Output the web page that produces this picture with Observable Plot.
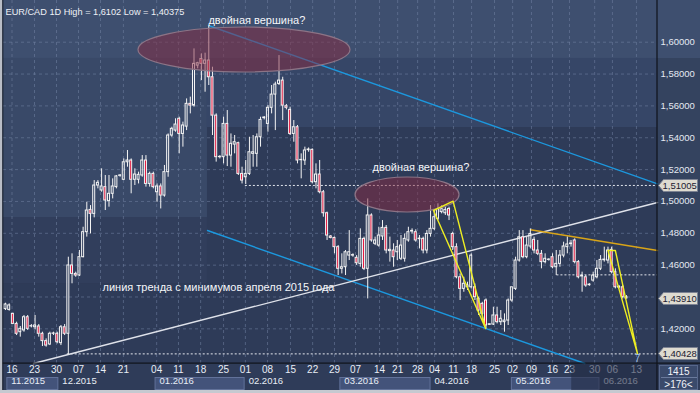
<!DOCTYPE html>
<html>
<head>
<meta charset="utf-8">
<script src="https://cdn.jsdelivr.net/npm/d3@7"></script>
<script src="https://cdn.jsdelivr.net/npm/@observablehq/plot@0.6"></script>
<style>
  html, body { margin: 0; padding: 0; background: #c5c9d0; }
  #chart svg { display: block; }
</style>
</head>
<body>
<div id="chart"></div>
<script>
// ---- daily candles (EUR/CAD) ----
const open = [1.4324,1.4319,1.4294,1.4231,1.4179,1.4190,1.4273,1.4215,1.4210,1.4215,
1.4169,1.4123,1.4102,1.4169,1.4169,1.4110,1.4210,1.4169,1.4598,1.4545,
1.4535,1.4650,1.4807,1.4947,1.4922,1.5100,1.5069,1.5090,1.5002,1.5048,
1.5090,1.5161,1.5136,1.5246,1.5257,1.5136,1.5136,1.5163,1.5257,1.5110,
1.5173,1.5058,1.5094,1.5037,1.5184,1.5414,1.5445,1.5519,1.5424,1.5470,
1.5613,1.5602,1.5853,1.5895,1.5864,1.5885,1.5780,1.5539,1.5278,1.5278,
1.5487,1.5288,1.5357,1.5366,1.5173,1.5152,1.5173,1.5299,1.5299,1.5403,
1.5523,1.5487,1.5588,1.5671,1.5738,1.5759,1.5598,1.5575,1.5424,1.5466,
1.5259,1.5257,1.5322,1.5324,1.5121,1.5169,1.5058,1.4926,1.4780,1.4771,
1.4713,1.4577,1.4587,1.4660,1.4660,1.4646,1.4608,1.4765,1.4577,1.4912,
1.4734,1.4723,1.4780,1.4834,1.4688,1.4692,1.4681,1.4640,1.4640,1.4755,
1.4811,1.4807,1.4763,1.4765,1.4692,1.4796,1.4828,1.4891,1.4933,1.4926,
1.4953,1.4796,1.4713,1.4524,1.4451,1.4461,1.4461,1.4461,1.4388,1.4357,
1.4378,1.4225,1.4227,1.4284,1.4242,1.4242,1.4252,1.4378,1.4451,1.4629,
1.4775,1.4650,1.4717,1.4759,1.4692,1.4671,1.4619,1.4633,1.4650,1.4587,
1.4608,1.4660,1.4713,1.4732,1.4755,1.4619,1.4529,1.4524,1.4474,1.4503,
1.4524,1.4577,1.4631,1.4629,1.4696,1.4556,1.4459,1.4461,1.4399];
const high = [1.4361,1.4357,1.4298,1.4242,1.4215,1.4284,1.4284,1.4227,1.4284,1.4227,
1.4179,1.4137,1.4179,1.4179,1.4179,1.4221,1.4227,1.4650,1.4671,1.4556,
1.4692,1.4838,1.4995,1.4974,1.5131,1.5131,1.5205,1.5163,1.5163,1.5142,
1.5163,1.5169,1.5267,1.5320,1.5267,1.5205,1.5184,1.5288,1.5288,1.5184,
1.5184,1.5110,1.5110,1.5226,1.5424,1.5466,1.5519,1.5529,1.5498,1.5644,
1.5655,1.5958,1.5874,1.5927,1.5931,1.6102,1.5843,1.5550,1.5288,1.5529,
1.5571,1.5424,1.5414,1.5372,1.5215,1.5257,1.5403,1.5414,1.5424,1.5529,
1.5533,1.5602,1.5728,1.5749,1.5916,1.5780,1.5609,1.5592,1.5508,1.5477,
1.5299,1.5341,1.5336,1.5330,1.5236,1.5257,1.5069,1.4933,1.4786,1.4776,
1.4723,1.4671,1.4692,1.4817,1.4671,1.4660,1.4828,1.4776,1.5016,1.4922,
1.4776,1.4838,1.4880,1.4849,1.4776,1.4734,1.4755,1.4786,1.4796,1.4838,
1.4828,1.4822,1.4786,1.4776,1.4817,1.4974,1.4943,1.4985,1.4974,1.4964,
1.4964,1.4807,1.4734,1.4545,1.4524,1.4493,1.4671,1.4482,1.4399,1.4367,
1.4388,1.4231,1.4336,1.4336,1.4315,1.4294,1.4388,1.4461,1.4650,1.4817,
1.4817,1.4776,1.4828,1.4776,1.4755,1.4692,1.4671,1.4640,1.4671,1.4692,
1.4692,1.4744,1.4776,1.4755,1.4765,1.4629,1.4556,1.4535,1.4483,1.4556,
1.4629,1.4660,1.4713,1.4713,1.4713,1.4577,1.4472,1.4472,1.4409];
const low = [1.4315,1.4311,1.4227,1.4158,1.4148,1.4179,1.4190,1.4206,1.4194,1.4148,
1.4089,1.4085,1.4095,1.4158,1.4106,1.4095,1.4158,1.4038,1.4483,1.4524,
1.4529,1.4646,1.4776,1.4796,1.4897,1.5079,1.5058,1.4943,1.4964,1.5016,
1.5079,1.5152,1.5131,1.5215,1.5048,1.5100,1.5110,1.5152,1.5090,1.5090,
1.5079,1.4995,1.4953,1.5027,1.5152,1.5403,1.5435,1.5299,1.5341,1.5445,
1.5550,1.5592,1.5833,1.5759,1.5686,1.5728,1.5414,1.5247,1.5267,1.5236,
1.5219,1.5215,1.5299,1.5163,1.5110,1.5106,1.5163,1.5215,1.5215,1.5341,
1.5512,1.5435,1.5550,1.5445,1.5728,1.5508,1.5575,1.5414,1.5372,1.5236,
1.5142,1.5226,1.5309,1.5110,1.5079,1.5048,1.4901,1.4755,1.4765,1.4671,
1.4535,1.4545,1.4535,1.4629,1.4650,1.4598,1.4587,1.4566,1.4388,1.4744,
1.4723,1.4713,1.4755,1.4671,1.4619,1.4587,1.4629,1.4629,1.4619,1.4744,
1.4796,1.4744,1.4702,1.4671,1.4671,1.4776,1.4817,1.4880,1.4922,1.4912,
1.4880,1.4692,1.4514,1.4378,1.4430,1.4441,1.4451,1.4378,1.4284,1.4252,
1.4200,1.4221,1.4221,1.4231,1.4221,1.4179,1.4221,1.4367,1.4441,1.4619,
1.4640,1.4640,1.4702,1.4671,1.4660,1.4577,1.4608,1.4625,1.4577,1.4535,
1.4587,1.4646,1.4671,1.4713,1.4608,1.4514,1.4430,1.4461,1.4468,1.4493,
1.4514,1.4566,1.4619,1.4608,1.4545,1.4451,1.4451,1.4388,1.4388];
const close = [1.4353,1.4347,1.4231,1.4169,1.4200,1.4273,1.4200,1.4217,1.4221,1.4169,
1.4123,1.4095,1.4169,1.4171,1.4116,1.4210,1.4169,1.4598,1.4545,1.4535,
1.4650,1.4807,1.4943,1.4922,1.5100,1.5117,1.5094,1.5006,1.5048,1.5094,
1.5157,1.5163,1.5246,1.5257,1.5136,1.5169,1.5167,1.5257,1.5110,1.5173,
1.5090,1.5094,1.5037,1.5184,1.5414,1.5456,1.5483,1.5424,1.5477,1.5613,
1.5602,1.5864,1.5868,1.5864,1.5885,1.5780,1.5539,1.5278,1.5280,1.5487,
1.5288,1.5362,1.5372,1.5173,1.5131,1.5173,1.5309,1.5309,1.5403,1.5512,
1.5527,1.5588,1.5671,1.5734,1.5759,1.5602,1.5588,1.5424,1.5466,1.5257,
1.5261,1.5320,1.5326,1.5121,1.5169,1.5058,1.4926,1.4786,1.4771,1.4713,
1.4577,1.4587,1.4681,1.4681,1.4663,1.4612,1.4765,1.4577,1.4912,1.4755,
1.4755,1.4786,1.4834,1.4692,1.4696,1.4650,1.4713,1.4723,1.4765,1.4807,
1.4815,1.4755,1.4767,1.4692,1.4796,1.4828,1.4901,1.4953,1.4953,1.4947,
1.4912,1.4713,1.4524,1.4451,1.4483,1.4472,1.4660,1.4399,1.4315,1.4294,
1.4221,1.4229,1.4284,1.4242,1.4263,1.4252,1.4378,1.4461,1.4629,1.4775,
1.4650,1.4723,1.4796,1.4692,1.4671,1.4619,1.4640,1.4635,1.4587,1.4608,
1.4660,1.4717,1.4730,1.4736,1.4619,1.4524,1.4533,1.4472,1.4478,1.4535,
1.4577,1.4633,1.4635,1.4692,1.4556,1.4461,1.4464,1.4399,1.4391];

// ---- axis labels ----
const tickPos = [1.76,7.85,13.8,19.75,25.7,31.9,40.9,46.8,52.8,59.0,64.9,70.9,77.1,83.1,89.0,94.7,101.2,106.1,111.5,116.1,121.2,126.1,132.3,137.2,142.3,148.0,152.6,159.4,164.2,170.7];
const tickLabels = ["16","23","30","07","14","21","04","11","18","25","01","08","15","22","29","07","14","21","28","04","11","18","25","02","09","16","23","30","06","13"];
const monthLabels = ["11.2015","12.2015","01.2016","02.2016","03.2016","04.2016","05.2016","06.2016"];
const monthStart = [0.5,14.3,40.6,64.7,90.6,115.0,137.0,160.7];
const futureStart = 153.2;
const priceTicks = [1.42,1.46,1.48,1.50,1.52,1.54,1.56,1.58,1.60];
const gridPrices = [1.42,1.44,1.46,1.48,1.50,1.52,1.54,1.56,1.58,1.60];
const tagPrices = [1.51005,1.43910,1.40428];

// ---- horizontal levels (price, starting candle) ----
const levelPrice = [1.51005,1.4539,1.40428];
const levelFrom = [64.9,149.2,16.7];

// ---- drawn lines (candle index, price) ----
const trendLine = [{i:7.58,p:1.39824},{i:176.4,p:1.49934}];
const channelUpper = [{i:54.9,p:1.61049},{i:176.4,p:1.51106}];
const channelLower = [{i:54.65,p:1.48176},{i:156.75,p:1.39824}];
const resistLine = [{i:142.05,p:1.4822},{i:176.4,p:1.4692}];
const wedge1 = [{i:115.8,p:1.49432},{i:121.1,p:1.50016},{i:129.9,p:1.42022},{i:115.8,p:1.49432}];
const wedge2 = [{i:163.0,p:1.4692},{i:165.0,p:1.4692},{i:171.0,p:1.4043},{i:163.0,p:1.4692}];

// ---- ellipses (centre and radii in candle / price units) ----
const ellI = [64.66,108.77];
const ellP = [1.5951,1.50405];
const ellRI = [28.68,14.07];
const ellRP = [0.01413,0.01099];

// ---- texts ----
const titleText = "EUR/CAD 1D High = 1,6102 Low = 1,40375";
const annoText = ["двойная вершина?","двойная вершина?","линия тренда с минимумов апреля 2015 года"];
const annoI = [54.9,99.3,26.25];
const annoP = [1.6136,1.5213,1.4457];

const fmt5 = v => d3.format(".5f")(v).replace(".", ",");
const candles = open.map((o, k) => ({i: k, open: o, high: high[k], low: low[k], close: close[k]}));
const up = candles.filter(d => d.close >= d.open);
const down = candles.filter(d => d.close < d.open);
const W = 0.27;

function backdrop(index, scales, values, dims) {
  const {width, height, marginRight, marginBottom} = dims;
  const xr = width - marginRight, yb = height - marginBottom;
  const g = d3.create("svg:g");
  g.append("rect").attr("x", xr).attr("y", 0).attr("width", marginRight).attr("height", yb).attr("fill", "#34435f");
  g.append("rect").attr("x", 0).attr("y", yb).attr("width", width).attr("height", marginBottom).attr("fill", "#2f3c59");
  for (let k = 0; k < monthLabels.length - 1; k += 2) {
    const x1 = scales.x(monthStart[k]), x2 = scales.x(monthStart[k + 1]);
    g.append("rect").attr("x", x1).attr("y", yb + 14.5).attr("width", x2 - x1).attr("height", 12)
      .attr("fill", "#43537a").attr("stroke", "#62729a");
  }
  return g.node();
}

function ellipses(index, scales) {
  const g = d3.create("svg:g");
  for (let k = 0; k < ellI.length; k++) {
    const cx = scales.x(ellI[k]), cy = scales.y(ellP[k]);
    g.append("ellipse").attr("cx", cx).attr("cy", cy)
      .attr("rx", scales.x(ellI[k] + ellRI[k]) - cx)
      .attr("ry", cy - scales.y(ellP[k] + ellRP[k]))
      .attr("fill", "rgb(135,42,64)").attr("fill-opacity", 0.5)
      .attr("stroke", "#8c7486").attr("stroke-width", 1.2);
  }
  return g.node();
}

function foreground(index, scales, values, dims) {
  const {width, height, marginRight, marginBottom} = dims;
  const xr = width - marginRight, yb = height - marginBottom;
  const g = d3.create("svg:g");
  const fx = scales.x(futureStart);
  g.append("rect").attr("x", fx).attr("y", yb + 1).attr("width", xr - fx).attr("height", marginBottom - 4)
    .attr("fill", "#232c44").attr("fill-opacity", 0.6);
  // frame lines
  g.append("rect").attr("x", 0).attr("y", yb - 0.5).attr("width", width).attr("height", 1.2).attr("fill", "#0f131b");
  g.append("rect").attr("x", xr - 0.6).attr("y", 0).attr("width", 1.2).attr("height", height).attr("fill", "#0f131b");
  g.append("rect").attr("x", 0).attr("y", 0).attr("width", 2.4).attr("height", height).attr("fill", "#b9bdc6");
  g.append("rect").attr("x", 2.4).attr("y", 0).attr("width", 0.9).attr("height", height).attr("fill", "#161b26");
  g.append("rect").attr("x", 0).attr("y", height - 3).attr("width", width).attr("height", 3).attr("fill", "#c5c9d0");
  // price tags
  for (const p of tagPrices) {
    const y = Math.round(scales.y(p)) + 0.5;
    g.append("path").attr("d", `M${xr + 1.5},${y} L${xr + 6.5},${y - 6} H${xr + 40.5} V${y + 6} H${xr + 6.5} Z`)
      .attr("fill", "#dedbd0").attr("stroke", "#7c8292");
    g.append("text").attr("x", xr + 5.5).attr("y", y).attr("dy", "0.35em").attr("text-anchor", "start")
      .attr("font-size", 9.5).attr("fill", "#1c2130").text(fmt5(p));
  }
  // bottom-right info box
  g.append("rect").attr("x", xr + 2.5).attr("y", yb + 2.5).attr("width", 38).attr("height", 24)
    .attr("fill", "#3a4a6b").attr("stroke", "#56668a");
  g.append("line").attr("x1", xr + 4).attr("x2", xr + 40).attr("y1", yb + 14.5).attr("y2", yb + 14.5).attr("stroke", "#6a7a9c");
  g.append("text").attr("x", xr + 21.5).attr("y", yb + 8.5).attr("dy", "0.35em").attr("text-anchor", "middle")
    .attr("font-size", 10).attr("fill", "#f0f3f8").text("1415");
  g.append("text").attr("x", xr + 21.5).attr("y", yb + 21).attr("dy", "0.35em").attr("text-anchor", "middle")
    .attr("font-size", 10).attr("fill", "#f0f3f8").text(">176<");
  return g.node();
}

const chart = Plot.plot({
  width: 700,
  height: 393,
  marginLeft: 3,
  marginRight: 43,
  marginTop: 0,
  marginBottom: 30,
  x: {domain: [-0.54, 176.4], axis: null},
  y: {domain: [1.39824, 1.62619], axis: null},
  style: {background: "#2e3b58", fontFamily: "'Liberation Sans', Arial, sans-serif", overflow: "hidden"},
  marks: [
    backdrop,
    Plot.rect([0], {x1: () => -0.54, x2: () => 200, y1: () => 1.58977, y2: () => 1.64, fill: "#3e4f6f"}),
    Plot.rect([0], {x1: () => -0.54, x2: () => 54.65, y1: () => 1.48992, y2: () => 1.58977, fill: "#394968"}),
    Plot.rect([0], {x1: () => 54.65, x2: () => 176.4, y1: () => 1.54644, y2: () => 1.58977, fill: "#364667"}),
    Plot.rect([0], {x1: () => -0.54, x2: () => 54.65, y1: () => 1.44844, y2: () => 1.48992, fill: "#313e5c"}),
    // grid
    Plot.ruleY(gridPrices, {y: d => d, stroke: "#7182a3", strokeOpacity: 0.55, strokeDasharray: "3,3"}),
    Plot.ruleX(tickPos, {x: d => d, stroke: "#7182a3", strokeOpacity: 0.55, strokeDasharray: "3,3"}),
    // dotted levels
    Plot.ruleY(d3.range(levelPrice.length), {y: k => levelPrice[k], x1: k => levelFrom[k], x2: () => 176.4,
      stroke: "#e4e7ee", strokeDasharray: "2,2", strokeWidth: 1}),
    // trend / channel lines
    Plot.line(channelUpper, {x: "i", y: "p", stroke: "#1c98de", strokeWidth: 1.4}),
    Plot.line(channelLower, {x: "i", y: "p", stroke: "#1c98de", strokeWidth: 1.4}),
    Plot.line(trendLine, {x: "i", y: "p", stroke: "#dfe2ea", strokeWidth: 1.4}),
    Plot.line(resistLine, {x: "i", y: "p", stroke: "#d8a418", strokeWidth: 1.4}),
    // candles
    Plot.ruleX(candles, {x: "i", y1: "high", y2: d => Math.max(d.open, d.close), stroke: "#f4f4f4", strokeWidth: 1}),
    Plot.ruleX(candles, {x: "i", y1: "low", y2: d => Math.min(d.open, d.close), stroke: "#f4f4f4", strokeWidth: 1}),
    Plot.rect(up, {x1: d => d.i - W, x2: d => d.i + W, y1: "open", y2: "close", fill: "none", stroke: "#f4f4f4", strokeWidth: 1}),
    Plot.rect(down, {x1: d => d.i - W, x2: d => d.i + W, y1: "open", y2: "close", fill: "#e2143c", stroke: "#f4f4f4", strokeWidth: 1}),
    ellipses,
    Plot.line(wedge1, {x: "i", y: "p", stroke: "#eeee22", strokeWidth: 1.4}),
    Plot.line(wedge2, {x: "i", y: "p", stroke: "#eeee22", strokeWidth: 1.4}),
    // texts
    Plot.text([titleText], {frameAnchor: "top-left", dx: 2, dy: 8, textAnchor: "start", fill: "#eef1f6", fontSize: 9.2}),
    Plot.text(d3.range(annoText.length), {x: k => annoI[k], y: k => annoP[k], text: k => annoText[k],
      textAnchor: "start", fill: "#f4f6fa", fontSize: 11}),
    Plot.text(["7"], {x: () => 171, y: () => 1.4014, fill: "#9fc3ea", fontSize: 10}),
    Plot.text(priceTicks, {y: d => d, text: fmt5, frameAnchor: "right", dx: 3, textAnchor: "start", fill: "#e4e9f2", fontSize: 9.5}),
    Plot.text(d3.range(tickPos.length), {x: k => tickPos[k], text: k => tickLabels[k], frameAnchor: "bottom", dy: 9,
      fill: "#e8edf5", fontSize: 10}),
    Plot.text(d3.range(monthLabels.length), {x: k => monthStart[k], text: k => monthLabels[k], frameAnchor: "bottom",
      dy: 20.5, dx: 4, textAnchor: "start", fill: "#e8edf5", fontSize: 9.5}),
    foreground
  ]
});
document.getElementById("chart").append(chart);
</script>
</body>
</html>
